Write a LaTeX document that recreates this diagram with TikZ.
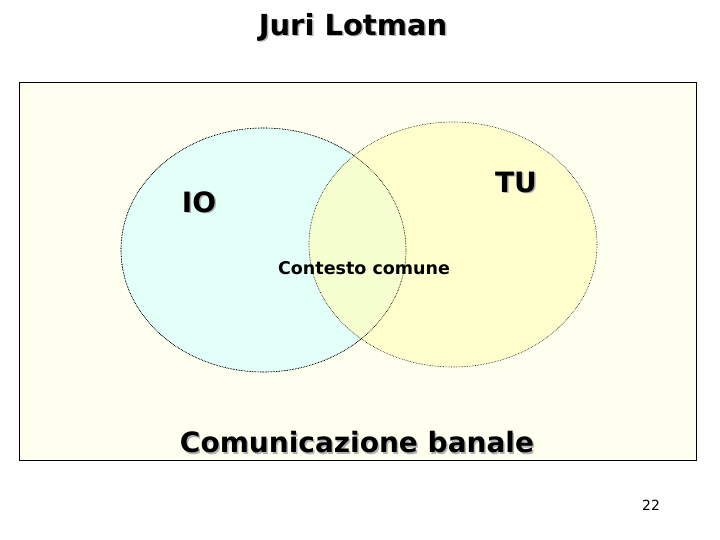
\documentclass[tikz,border=0pt]{standalone}
\usepackage{fontspec}
\setmainfont{DejaVu Sans}
\usepackage{tikz}
\usetikzlibrary{positioning,shapes.geometric}
\usepackage{xcolor}
\definecolor{bgcream}{HTML}{FFFFF0}
\definecolor{iocyan}{HTML}{E2FFF8}
\definecolor{tuyellow}{HTML}{FFFFC0}
\newcommand{\shadowed}[1]{\makebox[0pt][l]{\hspace{1.5pt}\raisebox{-1.5pt}{\color{black!30}#1}}#1}

\begin{document}
\begin{tikzpicture}[x=1pt, y=-1pt, every node/.style={font=\bfseries}]
\tikzset{set/.style={draw, ellipse, densely dotted, line width=0.6pt}}
\tikzset{big/.style={font=\bfseries\fontsize{28}{32}\selectfont}}
\useasboundingbox (0,0) rectangle (720,540);
\node[font=\bfseries\fontsize{29}{33}\selectfont] (title) at (353,28) {\shadowed{Juri Lotman}};
\node[draw, line width=0.8pt, fill=bgcream, minimum width=677pt, minimum height=378pt, inner sep=0pt] (frame) at (357.5,271) {};
\node[set, fill=iocyan, minimum width=285pt, minimum height=244pt] (io) at (263.5,250) {};
\node[set, fill=tuyellow, fill opacity=0.7, minimum width=288pt, minimum height=245pt] (tu) at (453,244.5) {};
\node[set, minimum width=285pt, minimum height=244pt] at (io) {};
\node[big] (iolab) at (199,203) {\shadowed{IO}};
\node[big] (tulab) at (516,183) {\shadowed{TU}};
\node[font=\bfseries\fontsize{17.5}{20}\selectfont] (common) at (364,268) {Contesto comune};
\node[big] (banal) at (357,443) {\shadowed{Comunicazione banale}};
\node[font=\fontsize{14}{16}\selectfont] (page) at (651,505) {22};
\end{tikzpicture}
\end{document}
